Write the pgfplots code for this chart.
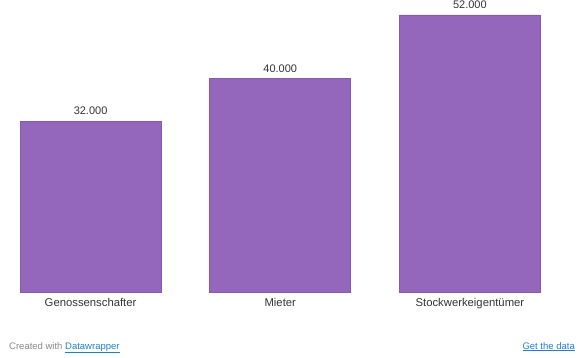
\documentclass[border=0pt]{standalone}
\usepackage{pgfplots}
\pgfplotsset{compat=1.18}
\usepackage{fontspec}
\setmainfont{Liberation Sans}
\definecolor{barfill}{HTML}{9467BD}
\definecolor{barline}{HTML}{8659B3}
\definecolor{txt}{HTML}{333333}
\definecolor{foot}{HTML}{888888}
\definecolor{link}{HTML}{1D81C4}
\begin{document}
\begin{tikzpicture}
\path[use as bounding box] (0pt,-65pt) rectangle (582pt,292pt);
\begin{axis}[
  at={(0pt,0pt)}, anchor=south west,
  scale only axis, width=582pt, height=292pt,
  xmin=-0.4776, xmax=2.5910, ymin=0, ymax=54800,
  clip=false,
  axis x line*=bottom, axis y line=none,
  x axis line style={draw=none},
  major tick length=0pt,
  ytick=\empty,
  xtick={0,1,2},
  xticklabels={Genossenschafter,Mieter,Stockwerkeigentümer},
  xticklabel style={anchor=base, yshift=-14pt, font=\fontsize{11.3}{13}\selectfont, text=txt},
  /pgf/number format/assume math mode=true,
  ybar, bar width=141pt,
  nodes near coords,
  nodes near coords style={anchor=base, yshift=6.5pt, font=\fontsize{11}{13}\selectfont, text=txt,
    /pgf/number format/.cd, fixed, 1000 sep={.}, assume math mode=true},
]
\addplot[fill=barfill, draw=barline, line width=0.8pt] coordinates {(0,32000) (1,40000) (2,52000)};
\end{axis}
\node[anchor=base west, inner sep=0pt, font=\fontsize{9.5}{11}\selectfont, text=foot] at (9pt,-57pt) {Created with \textcolor{link}{\underline{Datawrapper}}};
\node[anchor=base east, inner sep=0pt, font=\fontsize{9.5}{11}\selectfont, text=link] at (575pt,-57pt) {\underline{Get the data}};
\end{tikzpicture}
\end{document}
